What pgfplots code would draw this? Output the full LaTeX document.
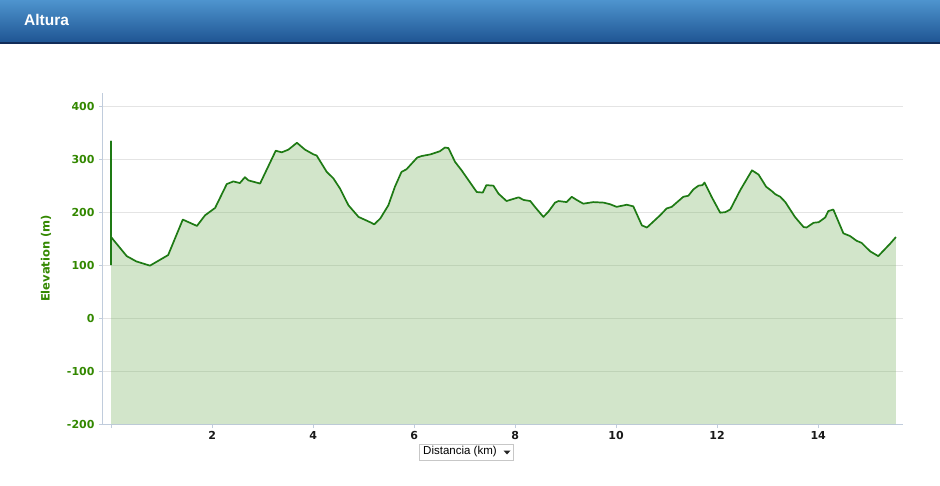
\documentclass[border=0pt]{standalone}
\usepackage{pgfplots}
\pgfplotsset{compat=1.18}
\usepackage{pgfplotstable}
\usepackage{fontspec}
\setmainfont{Liberation Sans}
\newfontfamily\vfont{DejaVu Sans}
\definecolor{hdrTop}{RGB}{78,148,206}
\definecolor{hdrBot}{RGB}{30,84,146}
\definecolor{hdrLine}{RGB}{18,44,88}
\definecolor{lineG}{RGB}{30,122,20}
\definecolor{fillG}{RGB}{108,172,82}
\definecolor{tickG}{RGB}{51,136,0}
\definecolor{axisC}{RGB}{192,204,220}
\definecolor{gridC}{RGB}{228,228,228}
\pgfplotstableread{
km m
0 100
0 334
0 153
0.31 117
0.50 107
0.77 99
1.13 119
1.42 186
1.70 174
1.86 194
2.06 208
2.29 253
2.42 258
2.55 255
2.65 266
2.72 260
2.95 254
3.26 316
3.38 313
3.51 318
3.68 331
3.84 318
4.01 309
4.07 307
4.27 276
4.40 264
4.53 245
4.70 213
4.90 191
5.13 181
5.21 177
5.33 188
5.49 213
5.62 248
5.75 276
5.85 281
6.06 303
6.15 306
6.32 309
6.51 315
6.61 322
6.68 321
6.81 295
6.94 279
7.24 238
7.36 237
7.43 251
7.57 250
7.67 235
7.83 221
7.93 224
8.07 228
8.17 223
8.30 221
8.40 209
8.56 191
8.66 201
8.79 218
8.86 221
9.02 219
9.12 229
9.22 223
9.35 216
9.55 219
9.75 218
9.88 215
10.01 210
10.21 214
10.34 211
10.51 175
10.61 171
10.87 194
11.00 207
11.10 210
11.33 229
11.43 231
11.53 243
11.63 250
11.71 251
11.75 256
11.89 229
12.06 199
12.16 200
12.26 205
12.46 242
12.69 279
12.82 271
12.97 248
13.08 240
13.15 234
13.25 229
13.35 219
13.54 191
13.71 172
13.77 171
13.91 180
14.01 181
14.14 190
14.20 202
14.30 205
14.50 160
14.63 155
14.76 146
14.86 142
15.03 126
15.19 117
15.43 141
15.54 153
}\elev
\begin{document}
\begin{tikzpicture}[x=1pt,y=1pt]
\useasboundingbox (0,0) rectangle (940,485);
\fill[white] (0,0) rectangle (940,485);
% header
\shade[top color=hdrTop, bottom color=hdrBot] (0,442) rectangle (940,485);
\draw[hdrLine, line width=2pt] (0,442) -- (940,442);
\node[anchor=west, text=white, font=\bfseries\fontsize{15.5}{18}\selectfont, inner sep=0pt] at (24,465) {Altura};
\begin{axis}[
  at={(103pt,61pt)}, anchor=south west,
  scale only axis, width=800pt, height=331pt,
  xmin=-0.16, xmax=15.68, ymin=-200, ymax=425,
  axis x line*=bottom, axis y line*=left,
  axis line style={axisC, line width=1pt},
  xtick={0,2,...,14}, xticklabels={{},2,4,6,8,10,12,14},
  ytick={-200,-100,...,400},
  ymajorgrids, grid style={gridC, line width=0.8pt},
  tick style={axisC, line width=0.8pt},
  major tick length=4pt, tick align=outside,
  /pgf/number format/assume math mode=true,
  yticklabel style={font=\vfont\bfseries\fontsize{11}{13}\selectfont, text=tickG, xshift=-1pt},
  xticklabel style={font=\vfont\bfseries\fontsize{11}{13}\selectfont, text=black!90},
  ylabel={Elevation (m)},
  ylabel style={font=\vfont\bfseries\fontsize{11.5}{13}\selectfont, text=tickG,
    at={(axis description cs:-0.0713,0.5)}, anchor=center},
  clip=false,
]
\addplot[draw=none, fill=fillG, fill opacity=0.3, forget plot] table[x=km,y=m] {\elev}
  -- (axis cs:15.54,-200) -- (axis cs:0,-200) -- cycle;
\addplot[lineG, line width=1.7pt, line join=round, no markers] table[x=km,y=m] {\elev};
\end{axis}
% x-axis selector box
\draw[fill=white, draw=black!22] (419,25) rectangle (513,41);
\node[anchor=west, font=\fontsize{11.5}{13}\selectfont, inner sep=0pt] at (423,33) {Distancia (km)};
\fill[black!85] (503.5,34.5) -- (510.5,34.5) -- (507,30.5) -- cycle;
\end{tikzpicture}
\end{document}
